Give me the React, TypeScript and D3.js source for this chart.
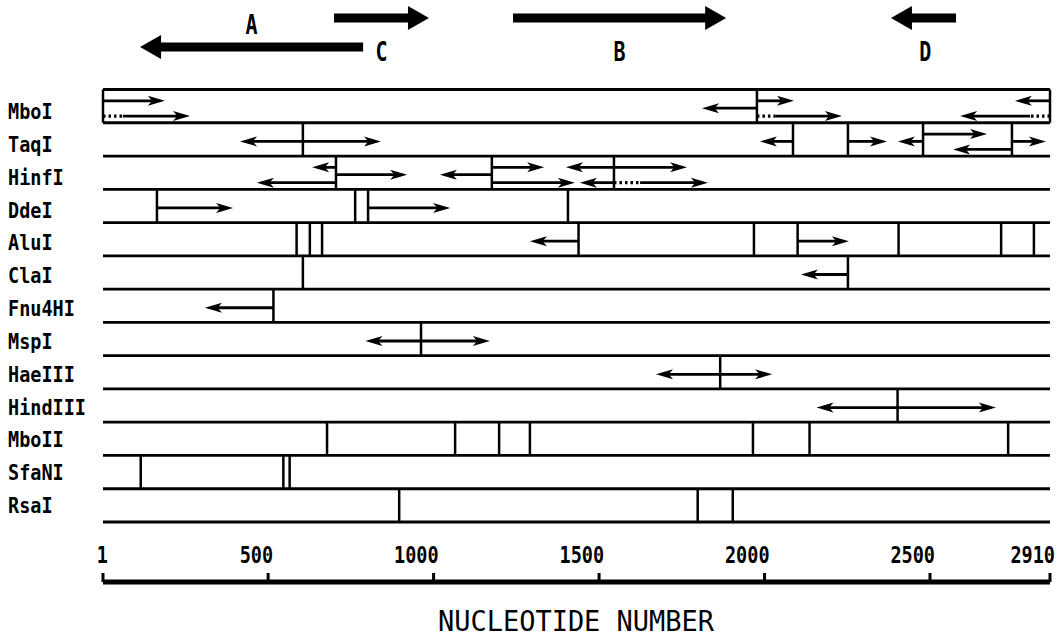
import React from "react";
import * as d3 from "d3";

const W = 1063;
const H = 640;

// enzymes, top to bottom
const enzymes = ["MboI", "TaqI", "HinfI", "DdeI", "AluI", "ClaI", "Fnu4HI", "MspI", "HaeIII", "HindIII", "MboII", "SfaNI", "RsaI"];

// cut sites (nucleotide number)
const cutsMboI = [1, 1977, 2910];
const cutsTaqI = [605, 2086, 2252, 2479, 2780];
const cutsHinfI = [705, 1176, 1545];
const cutsDdeI = [164, 763, 802, 1406];
const cutsAluI = [586, 626, 663, 1438, 1968, 2100, 2405, 2743, 2855];
const cutsClaI = [605, 2252];
const cutsFnu4HI = [516];
const cutsMspI = [962];
const cutsHaeIII = [1866];
const cutsHindIII = [2402];
const cutsMboII = [678, 1065, 1198, 1291, 1965, 2136, 2767];
const cutsSfaNI = [115, 546, 565];
const cutsRsaI = [896, 1798, 1904];

// sequencing runs: [from, to, lane, dotted-until]
type Read = [number, number, string, number?];
const readsMboI: Read[] = [
  [1, 188, "up"], [1, 264, "low", 61],
  [1977, 1811, "mid"], [1977, 2089, "up"], [1977, 2234, "low", 2032],
  [2910, 2790, "up"], [2910, 2603, "low", 2842],
];
const readsTaqI: Read[] = [
  [605, 415, "mid"], [605, 841, "mid"],
  [2086, 1986, "mid"], [2252, 2370, "mid"],
  [2479, 2403, "mid"], [2479, 2695, "up"],
  [2780, 2579, "low"], [2780, 2896, "mid"],
];
const readsHinfI: Read[] = [
  [705, 633, "up"], [705, 466, "low"], [705, 920, "mid"],
  [1176, 1019, "mid"], [1176, 1334, "up"], [1176, 1427, "low"],
  [1545, 1400, "up"], [1545, 1442, "low"], [1545, 1766, "up"], [1545, 1829, "low", 1624],
];
const readsDdeI: Read[] = [[164, 394, "mid"], [802, 1050, "mid"]];
const readsAluI: Read[] = [[1438, 1291, "mid"], [2100, 2255, "mid"]];
const readsClaI: Read[] = [[2252, 2110, "mid"]];
const readsFnu4HI: Read[] = [[516, 309, "mid"]];
const readsMspI: Read[] = [[962, 794, "mid"], [962, 1170, "mid"]];
const readsHaeIII: Read[] = [[1866, 1672, "mid"], [1866, 2023, "mid"]];
const readsHindIII: Read[] = [[2402, 2157, "mid"], [2402, 2725, "mid"]];

const cutTable = [cutsMboI, cutsTaqI, cutsHinfI, cutsDdeI, cutsAluI, cutsClaI, cutsFnu4HI, cutsMspI, cutsHaeIII, cutsHindIII, cutsMboII, cutsSfaNI, cutsRsaI];
const readTable = [readsMboI, readsTaqI, readsHinfI, readsDdeI, readsAluI, readsClaI, readsFnu4HI, readsMspI, readsHaeIII, readsHindIII, [], [], []];

// genes (open reading frames) drawn above the map
const geneNames = ["A", "C", "B", "D"];
const geneStart = [787, 699, 1240, 2589];
const geneEnd = [113, 986, 1884, 2382];
const geneTrack = [1, 0, 0, 0];

const tickValues = [1, 500, 1000, 1500, 2000, 2500, 2910];

const FONT = "'DejaVu Sans Mono', 'Liberation Mono', monospace";

const x = d3.scaleLinear().domain([1, 2500, 2910]).range([103, 930, 1050]);
const yRow = d3.scaleBand<string>().domain(enzymes).range([89.5, 522]).paddingInner(0);
const yLabel = d3.scalePoint<string>().domain(enzymes).range([112, 506]);
const laneFrac: Record<string, number> = { up: 0.34, mid: 0.56, low: 0.8 };
const trackY = [18, 47];

function Tall({ x, y, sy, children, ...rest }: any) {
  return (
    <text transform={`translate(${x},${y}) scale(1,${sy})`} fontFamily={FONT} {...rest}>
      {children}
    </text>
  );
}

function ReadArrow({ r, top, bw }: { r: Read; top: number; bw: number }) {
  const [from, to, lane, dot] = r;
  const y = top + bw * laneFrac[lane];
  const x0 = x(from);
  const x1 = x(to);
  const dir = Math.sign(x1 - x0);
  const hl = 17;
  const hw = 5;
  const xs = dot != null ? x(dot) : x0;
  return (
    <g>
      {dot != null && (
        <line x1={x0} x2={xs} y1={y} y2={y} stroke="#000" strokeWidth={3.2} strokeDasharray="2.5,3" />
      )}
      <line x1={xs} x2={x1 - dir * hl * 0.7} y1={y} y2={y} stroke="#000" strokeWidth={2.8} />
      <path
        d={`M${x1},${y} L${x1 - dir * hl},${y - hw} L${x1 - dir * hl * 0.75},${y} L${x1 - dir * hl},${y + hw} Z`}
        fill="#000"
      />
    </g>
  );
}

function GeneArrow({ i }: { i: number }) {
  const x0 = x(geneStart[i]);
  const x1 = x(geneEnd[i]);
  const dir = Math.sign(x1 - x0);
  const y = trackY[geneTrack[i]];
  const hl = 21;
  const hw = 12;
  const sw = 9;
  const xb = x1 - dir * hl;
  const d = [
    [x0, y - sw / 2], [xb, y - sw / 2], [xb, y - hw], [x1, y],
    [xb, y + hw], [xb, y + sw / 2], [x0, y + sw / 2],
  ];
  return <path d={d3.line()(d as [number, number][]) + "Z"} fill="#000" />;
}

export default function App() {
  const bw = yRow.bandwidth();
  const bounds = enzymes.map((e) => yRow(e) as number).concat([(yRow(enzymes[enzymes.length - 1]) as number) + bw]);
  const axisY = 582;

  return (
    <svg width={W} height={H} style={{ position: "absolute", left: 0, top: 0, background: "#fff" }}>
      {/* genes */}
      {geneNames.map((g, i) => (
        <g key={g}>
          <GeneArrow i={i} />
          <Tall
            x={x((geneStart[i] + geneEnd[i]) / 2)}
            y={geneTrack[i] === 1 ? 34 : 61}
            sy={1.3}
            fontSize={20}
            fontWeight="bold"
            textAnchor="middle"
          >
            {g}
          </Tall>
        </g>
      ))}

      {/* row boundaries */}
      {bounds.map((b, i) => (
        <line key={"h" + i} x1={x(1)} x2={x(2910)} y1={b} y2={b} stroke="#000" strokeWidth={2.8} />
      ))}

      {enzymes.map((e, i) => {
        const top = yRow(e) as number;
        return (
          <g key={e}>
            <Tall x={8} y={(yLabel(e) as number) + 7} sy={1.1} fontSize={18.5} fontWeight="bold">
              {e}
            </Tall>
            {cutTable[i].map((c, j) => (
              <line key={j} x1={x(c)} x2={x(c)} y1={top} y2={top + bw} stroke="#000" strokeWidth={2.5} />
            ))}
            {(readTable[i] as Read[]).map((r, j) => (
              <ReadArrow key={j} r={r} top={top} bw={bw} />
            ))}
          </g>
        );
      })}

      {/* axis */}
      <line x1={x(1)} x2={x(2910)} y1={axisY} y2={axisY} stroke="#000" strokeWidth={5} />
      {tickValues.map((t) => (
        <g key={t}>
          <line x1={x(t)} x2={x(t)} y1={axisY} y2={axisY - 9} stroke="#000" strokeWidth={3} />
          <Tall x={x(t) + 5} y={563} sy={1.25} fontSize={18.5} fontWeight="bold" textAnchor="end">
            {t}
          </Tall>
        </g>
      ))}
      <Tall x={576} y={631} sy={1.05} fontSize={27} textAnchor="middle">
        NUCLEOTIDE NUMBER
      </Tall>
    </svg>
  );
}
